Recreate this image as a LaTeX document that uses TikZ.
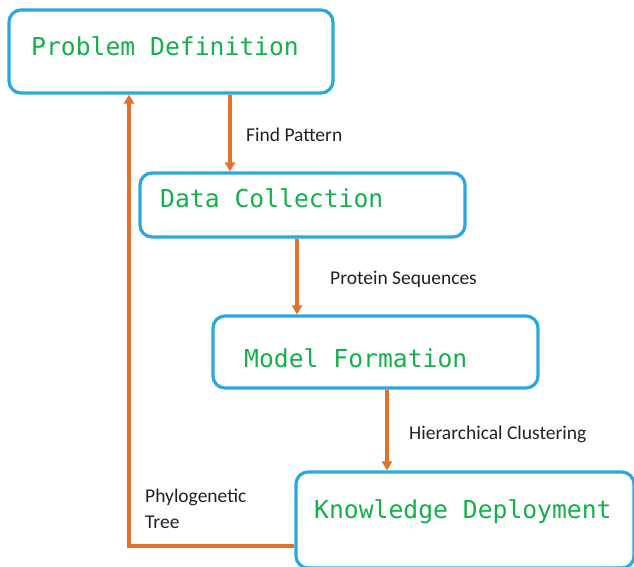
\documentclass[tikz,border=0pt]{standalone}
\usepackage{fontspec}
\usetikzlibrary{arrows.meta}
\newfontfamily\stagefont{DejaVu Sans Mono}
\newfontfamily\notefont{Carlito}
\definecolor{boxblue}{HTML}{29A8E0}
\definecolor{stagegreen}{HTML}{14B04C}
\definecolor{flow}{HTML}{E4712A}
\definecolor{notegray}{HTML}{222222}
\tikzset{
  stagebox/.style={draw=boxblue, line width=3.2pt, rounded corners=12pt, fill=white, inner sep=0pt},
  stagetext/.style={anchor=west, text=stagegreen, inner sep=0pt, font=\stagefont\fontsize{24.7}{28}\selectfont},
  note/.style={anchor=west, text=notegray, inner sep=0pt, font=\notefont\fontsize{19.5}{26}\selectfont},
  flowarrow/.style={draw=flow, line width=3.2pt, -{Triangle[length=9pt, width=10pt]}}
}
\begin{document}
\begin{tikzpicture}[x=1pt, y=-1pt]
\useasboundingbox (0,0) rectangle (634,566);
\clip (0,0) rectangle (634,566);
\fill[white] (0,0) rectangle (634,566);

% stages
\node[stagebox, minimum width=324pt, minimum height=83pt] (pd) at (171,51.5) {};
\node[stagetext] (pdt) at (31,46) {Problem Definition};

\node[stagebox, minimum width=325pt, minimum height=64pt] (dc) at (302.5,205) {};
\node[stagetext] (dct) at (160,198) {Data Collection};

\node[stagebox, minimum width=325pt, minimum height=72pt] (mf) at (375.5,352) {};
\node[stagetext] (mft) at (244,358) {Model Formation};

\node[stagebox, minimum width=338pt, minimum height=96pt] (kd) at (465,520) {};
\node[stagetext] (kdt) at (314,512) {Knowledge Deployment};

% flow between stages
\coordinate (c1) at (230,0);
\coordinate (c2) at (297,0);
\coordinate (c3) at (387,0);
\coordinate (fb) at (129,546);
\draw[flowarrow] (pd.south -| c1) -- (dc.north -| c1);
\draw[flowarrow] (dc.south -| c2) -- (mf.north -| c2);
\draw[flowarrow] (mf.south -| c3) -- (kd.north -| c3);
\draw[flowarrow] (kd.west |- fb) -- (fb) -- (pd.south -| fb);

% annotations
\node[note] (n1) at (246,135) {Find Pattern};
\node[note] (n2) at (330,279) {Protein Sequences};
\node[note] (n3) at (409,434) {Hierarchical Clustering};
\node[note, anchor=north west, align=left] (n4) at (145,489) {Phylogenetic\\Tree};
\end{tikzpicture}
\end{document}
